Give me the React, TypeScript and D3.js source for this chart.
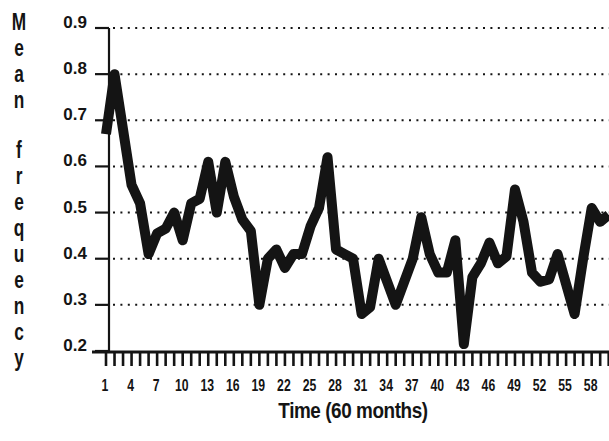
import React from "react";
import * as d3 from "d3";

const months: number[] = d3.range(1, 61);
const meanFrequency: number[] = [
  0.67, 0.80, 0.68, 0.56, 0.52, 0.41, 0.455, 0.465, 0.50, 0.44,
  0.52, 0.53, 0.61, 0.50, 0.61, 0.535, 0.485, 0.46, 0.30, 0.40,
  0.42, 0.38, 0.41, 0.41, 0.47, 0.51, 0.62, 0.42, 0.41, 0.40,
  0.28, 0.295, 0.40, 0.35, 0.30, 0.35, 0.40, 0.49, 0.41, 0.37,
  0.37, 0.44, 0.215, 0.36, 0.39, 0.435, 0.39, 0.405, 0.55, 0.48,
  0.37, 0.35, 0.355, 0.41, 0.345, 0.28, 0.40, 0.51, 0.48, 0.495,
];
const yTicks: number[] = [0.2, 0.3, 0.4, 0.5, 0.6, 0.7, 0.8, 0.9];
const xTickLabels: number[] = [1, 4, 7, 10, 13, 16, 19, 22, 25, 28, 31, 34, 37, 40, 43, 46, 49, 52, 55, 58];
const yTitleWord1 = "Mean";
const yTitleWord2 = "frequency";
const xTitle = "Time (60 months)";

const W = 609;
const H = 441;

export default function App() {
  const x = d3.scaleLinear().domain([1, 60]).range([106, 608.7]);
  const y = d3.scaleLinear().domain([0.2, 0.9]).range([351, 28]);
  const axisX = 109;
  const line = d3
    .line<number>()
    .x((_, i) => x(months[i]))
    .y((d) => y(d));
  const ink = "#141414";
  const font = "'Liberation Sans', Arial, sans-serif";

  return (
    <svg
      width={W}
      height={H}
      style={{ position: "absolute", left: 0, top: 0, background: "#fff" }}
    >
      <rect x={0} y={0} width={W} height={H} fill="#fff" />
      {/* dotted gridlines */}
      {yTicks
        .filter((t) => t > 0.2)
        .map((t) => (
          <line
            key={"g" + t}
            x1={113}
            x2={W}
            y1={y(t)}
            y2={y(t)}
            stroke={ink}
            strokeWidth={2}
            strokeDasharray="2 5.4"
          />
        ))}
      {/* data line */}
      <path
        d={line(meanFrequency) || ""}
        fill="none"
        stroke={ink}
        strokeWidth={10}
        strokeLinejoin="round"
        strokeLinecap="butt"
      />
      {/* y axis */}
      <line x1={axisX} x2={axisX} y1={y(0.9)} y2={y(0.2) + 1} stroke={ink} strokeWidth={2.2} />
      {yTicks.map((t) => (
        <g key={"yt" + t}>
          <line x1={95} x2={axisX} y1={y(t)} y2={y(t)} stroke={ink} strokeWidth={2.2} />
          <text
            x={87}
            y={y(t)}
            textAnchor="end"
            fontFamily={font}
            fontWeight="bold"
            fontSize={17}
            fill={ink}
          >
            {t.toFixed(1)}
          </text>
        </g>
      ))}
      {/* x axis */}
      <line x1={92} x2={W} y1={352} y2={352} stroke={ink} strokeWidth={3} />
      {months.map((m) => (
        <line
          key={"xt" + m}
          x1={x(m)}
          x2={x(m)}
          y1={352}
          y2={366}
          stroke={ink}
          strokeWidth={2.6}
        />
      ))}
      {xTickLabels.map((m) => (
        <text
          key={"xl" + m}
          transform={`translate(${x(m) - 1},391) scale(0.72,1)`}
          textAnchor="middle"
          fontFamily={font}
          fontWeight="bold"
          fontSize={17}
          fill={ink}
        >
          {m}
        </text>
      ))}
      {/* x title */}
      <text
        transform={`translate(353,418) scale(0.86,1)`}
        textAnchor="middle"
        fontFamily={font}
        fontWeight="bold"
        fontSize={22}
        letterSpacing={-0.5}
        fill={ink}
      >
        {xTitle}
      </text>
      {/* y title, stacked letters */}
      <text
        transform="translate(19,0) scale(0.72,1)"
        textAnchor="middle"
        fontFamily={font}
        fontWeight="bold"
        fontSize={24}
        fill={ink}
      >
        {yTitleWord1.split("").map((c, i) => (
          <tspan key={"w1" + i} x={0} y={30 + i * 26}>
            {c}
          </tspan>
        ))}
        {yTitleWord2.split("").map((c, i) => (
          <tspan key={"w2" + i} x={0} y={158 + i * 26}>
            {c}
          </tspan>
        ))}
      </text>
    </svg>
  );
}
